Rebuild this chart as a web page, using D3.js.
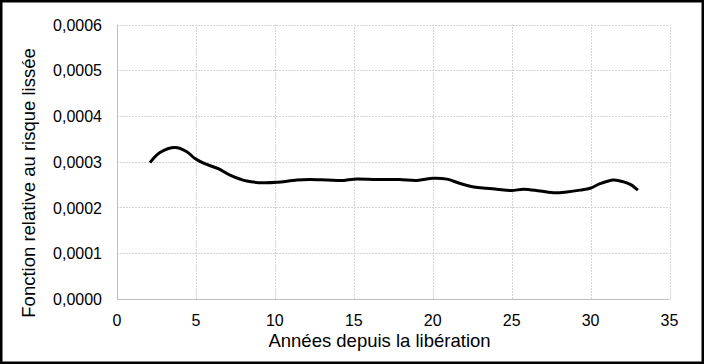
<!DOCTYPE html>
<html>
<head>
<meta charset="utf-8">
<script src="https://cdn.jsdelivr.net/npm/d3@7"></script>
<style>
  body { margin: 0; background: #fff; }
  svg { display: block; font-family: "Liberation Sans", Arial, sans-serif; }
  .grid line { stroke: #d4d4d4; stroke-width: 1; stroke-dasharray: 2,1; }
  .tick-label { font-size: 16px; fill: #000; }
  .axis-title { font-size: 18.5px; fill: #000; }
</style>
</head>
<body>
<svg width="704" height="364"></svg>
<script>
// values (hazard in units of 1e-4)
var years = [2.09, 2.72, 3.68, 4.42, 4.94, 5.68, 6.42, 7.16, 8.22, 9.27, 10.12, 11.39,
  12.2, 13.3, 14.34, 15.0, 16.46, 17.9, 19.0, 20.04, 20.9, 21.7, 22.6, 23.4, 24.06,
  25.0, 25.75, 26.8, 27.75, 28.5, 29.34, 29.97, 30.6, 31.45, 32.1, 32.6, 33.0];
var hazard = [2.98, 3.20, 3.31, 3.22, 3.07, 2.94, 2.85, 2.71, 2.58, 2.54, 2.55, 2.60,
  2.61, 2.60, 2.59, 2.62, 2.61, 2.61, 2.59, 2.64, 2.62, 2.53, 2.45, 2.42, 2.40,
  2.37, 2.40, 2.36, 2.32, 2.34, 2.38, 2.42, 2.52, 2.60, 2.56, 2.49, 2.38];

var xTicks = [0, 5, 10, 15, 20, 25, 30, 35];
var yTicks = [0, 0.0001, 0.0002, 0.0003, 0.0004, 0.0005, 0.0006];
var xTitle = "Années depuis la libération";
var yTitle = "Fonction relative au risque lissée";

var data = years.map(function(d, i) {
  return { x: d, y: hazard[i] * 1e-4 };
});

var svg = d3.select("svg");

var x = d3.scaleLinear().domain([0, 35]).range([117, 669.5]);
var y = d3.scaleLinear().domain([0, 0.0006]).range([299, 24.5]);

var fmtY = function(v) { return d3.format(".4f")(v).replace(".", ","); };

// outer frame
svg.append("rect")
  .attr("x", 1.25).attr("y", 1.25)
  .attr("width", 701.5).attr("height", 361.5)
  .attr("fill", "#fff")
  .attr("stroke", "#000")
  .attr("stroke-width", 2.5);

// grid
var grid = svg.append("g").attr("class", "grid");
grid.selectAll(".h").data(yTicks.slice(1)).enter().append("line")
  .attr("x1", x(0)).attr("x2", x(35))
  .attr("y1", function(d) { return Math.round(y(d)) + 0.5; })
  .attr("y2", function(d) { return Math.round(y(d)) + 0.5; });
grid.selectAll(".v").data(xTicks.slice(1)).enter().append("line")
  .attr("y1", y(0)).attr("y2", y(0.0006))
  .attr("x1", function(d) { return Math.round(x(d)) + 0.5; })
  .attr("x2", function(d) { return Math.round(x(d)) + 0.5; });

// axis lines
svg.append("line")
  .attr("x1", Math.round(x(0)) + 0.5).attr("x2", Math.round(x(0)) + 0.5)
  .attr("y1", y(0)).attr("y2", y(0.0006))
  .attr("stroke", "#bfbfbf");
svg.append("line")
  .attr("x1", x(0)).attr("x2", x(35))
  .attr("y1", Math.round(y(0)) + 0.5).attr("y2", Math.round(y(0)) + 0.5)
  .attr("stroke", "#bfbfbf");

// tick labels
svg.append("g").selectAll("text").data(yTicks).enter().append("text")
  .attr("class", "tick-label")
  .attr("x", 102)
  .attr("y", function(d) { return y(d) + 6; })
  .attr("text-anchor", "end")
  .text(fmtY);

svg.append("g").selectAll("text").data(xTicks).enter().append("text")
  .attr("class", "tick-label")
  .attr("x", function(d) { return x(d); })
  .attr("y", 326)
  .attr("text-anchor", "middle")
  .text(function(d) { return d; });

// axis titles
svg.append("text")
  .attr("class", "axis-title")
  .attr("x", 379.5).attr("y", 346.5)
  .attr("text-anchor", "middle")
  .text(xTitle);

svg.append("text")
  .attr("class", "axis-title")
  .attr("transform", "translate(35,183) rotate(-90)")
  .attr("text-anchor", "middle")
  .text(yTitle);

// curve
var line = d3.line()
  .x(function(d) { return x(d.x); })
  .y(function(d) { return y(d.y); })
  .curve(d3.curveCatmullRom.alpha(0.5));

svg.append("path")
  .datum(data)
  .attr("d", line)
  .attr("fill", "none")
  .attr("stroke", "#000")
  .attr("stroke-width", 3)
  .attr("stroke-linejoin", "round")
  .attr("stroke-linecap", "butt");
</script>
</body>
</html>
